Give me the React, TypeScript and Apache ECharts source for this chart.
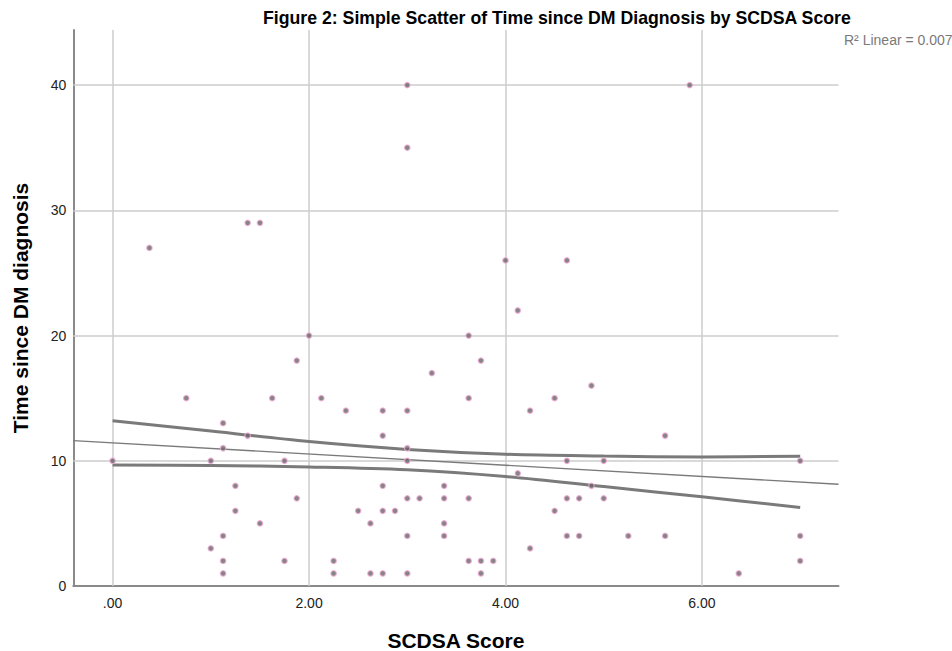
import { useEffect, useRef } from "react";
import * as echarts from "echarts";

// SCDSA Score (x) and Time since DM diagnosis (y), one entry per respondent
const scdsaScore = [
  0, 0.375, 0.75, 1, 1, 1.125, 1.125, 1.125, 1.125, 1.125, 1.25, 1.25, 1.375, 1.375, 1.5, 1.5,
  1.625, 1.75, 1.75, 1.875, 1.875, 2, 2.125, 2.25, 2.25, 2.375, 2.5, 2.625, 2.625, 2.75, 2.75,
  2.75, 2.75, 2.75, 2.875, 3, 3, 3, 3, 3, 3, 3, 3, 3.125, 3.25, 3.375, 3.375, 3.375, 3.375,
  3.625, 3.625, 3.625, 3.625, 3.75, 3.75, 3.75, 3.875, 4, 4.125, 4.125, 4.25, 4.25, 4.5, 4.5,
  4.625, 4.625, 4.625, 4.625, 4.75, 4.75, 4.875, 4.875, 5, 5, 5.25, 5.625, 5.625, 5.875, 6.375,
  7, 7, 7,
];
const timeSinceDiagnosis = [
  10, 27, 15, 10, 3, 13, 11, 4, 2, 1, 8, 6, 29, 12, 29, 5,
  15, 10, 2, 18, 7, 20, 15, 2, 1, 14, 6, 5, 1, 14, 12,
  8, 6, 1, 6, 40, 35, 14, 11, 10, 7, 4, 1, 7, 17, 8, 7, 5, 4,
  20, 15, 7, 2, 18, 2, 1, 2, 26, 22, 9, 14, 3, 15, 6,
  26, 10, 7, 4, 7, 4, 16, 8, 10, 7, 4, 12, 4, 40, 1,
  10, 4, 2,
];

// Linear fit line (spans the full x axis)
const fitLineX = [-0.4, 7.39];
const fitLineY = [11.61, 8.13];

// 95% CI bands of the mean
const bandX = [0, 1, 2, 3, 4, 5, 6, 7];
const bandUpper = [13.2, 12.37, 11.53, 10.9, 10.52, 10.38, 10.31, 10.36];
const bandLower = [9.67, 9.62, 9.51, 9.28, 8.74, 7.94, 7.12, 6.27];

const xTicks = [0, 2, 4, 6];
const yTicks = [0, 10, 20, 30, 40];
const xRange = [-0.4, 7.39];
const yRange = [0, 44.4];

const FONT = "'Liberation Sans', Arial, Helvetica, sans-serif";

function fmtX(v: number) {
  const s = v.toFixed(2);
  return s.startsWith("0.") ? s.slice(1) : s;
}

export default function App() {
  const ref = useRef<HTMLDivElement>(null);

  useEffect(() => {
    if (!ref.current) return;
    const chart = echarts.init(ref.current, null, { renderer: "svg" });

    const points = scdsaScore.map((x, i) => [x, timeSinceDiagnosis[i]]);
    const fit = fitLineX.map((x, i) => [x, fitLineY[i]]);
    const upper = bandX.map((x, i) => [x, bandUpper[i]]);
    const lower = bandX.map((x, i) => [x, bandLower[i]]);

    const gridLineStyle = { color: "#cccccc", width: 1.5, type: "solid" as const };

    chart.setOption({
      animation: false,
      backgroundColor: "#ffffff",
      title: {
        text: "Figure 2: Simple Scatter of Time since DM Diagnosis by SCDSA Score",
        left: 263,
        top: 9,
        padding: 0,
        textStyle: {
          fontFamily: FONT,
          fontWeight: "bold",
          fontSize: 17.7,
          color: "#000000",
        },
      },
      graphic: [
        {
          type: "text",
          x: 844,
          y: 40,
          style: {
            text: "R² Linear = 0.007",
            fontFamily: FONT,
            fontSize: 14,
            fill: "#7a7a7a",
            textVerticalAlign: "middle",
          },
        },
      ],
      grid: {
        left: 73.3,
        right: 113.5,
        top: 30,
        bottom: 65,
        containLabel: false,
        outerBoundsMode: "none",
      },
      xAxis: {
        type: "value",
        min: xRange[0],
        max: xRange[1],
        name: "SCDSA Score",
        nameLocation: "middle",
        nameGap: 44,
        nameTextStyle: { fontFamily: FONT, fontWeight: "bold", fontSize: 21, color: "#000" },
        axisLine: { show: true, lineStyle: { color: "#8a8a8a", width: 2 } },
        axisTick: { show: false },
        splitLine: { show: false },
        axisLabel: {
          customValues: xTicks,
          formatter: (v: number) => (xTicks.includes(v) ? fmtX(v) : ""),
          fontFamily: FONT,
          fontSize: 14,
          color: "#222",
          margin: 10,
        },
      },
      yAxis: {
        type: "value",
        min: yRange[0],
        max: yRange[1],
        name: "Time since DM diagnosis",
        nameLocation: "middle",
        nameGap: 42,
        nameRotate: 90,
        nameTextStyle: { fontFamily: FONT, fontWeight: "bold", fontSize: 21, color: "#000" },
        axisLine: { show: true, onZero: false, lineStyle: { color: "#8a8a8a", width: 2 } },
        axisTick: { show: false },
        splitLine: { show: false },
        axisLabel: {
          customValues: yTicks,
          formatter: (v: number) => (yTicks.includes(v) ? String(v) : ""),
          fontFamily: FONT,
          fontSize: 14,
          color: "#222",
          margin: 7,
        },
      },
      series: [
        {
          type: "line",
          data: [],
          silent: true,
          markLine: {
            silent: true,
            symbol: "none",
            z: 1,
            label: { show: false },
            lineStyle: gridLineStyle,
            emphasis: { disabled: true },
            data: [
              ...xTicks.map((v) => ({ xAxis: v })),
              ...yTicks.filter((v) => v > 0).map((v) => ({ yAxis: v })),
            ],
          },
        },
        {
          type: "line",
          data: fit,
          showSymbol: false,
          silent: true,
          z: 3,
          lineStyle: { color: "#7a7a7a", width: 1.4 },
        },
        {
          type: "line",
          data: upper,
          smooth: 0.35,
          showSymbol: false,
          silent: true,
          z: 3,
          lineStyle: { color: "#7a7a7a", width: 3 },
        },
        {
          type: "line",
          data: lower,
          smooth: 0.35,
          showSymbol: false,
          silent: true,
          z: 3,
          lineStyle: { color: "#7a7a7a", width: 3 },
        },
        {
          type: "scatter",
          data: points,
          symbol: "circle",
          symbolSize: 5.5,
          z: 4,
          itemStyle: { color: "#666666", borderColor: "#f2a9d8", borderWidth: 1.2 },
        },
      ],
    });

    return () => chart.dispose();
  }, []);

  return (
    <div
      ref={ref}
      style={{ position: "fixed", left: 0, top: 0, width: 952, height: 651, background: "#fff" }}
    />
  );
}
